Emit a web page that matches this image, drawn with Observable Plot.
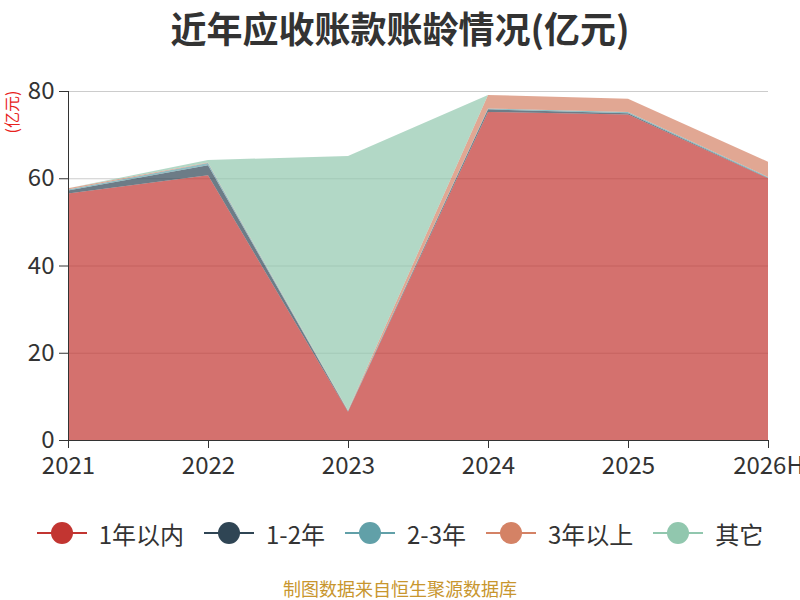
<!DOCTYPE html>
<html>
<head>
<meta charset="utf-8">
<script src="https://cdn.jsdelivr.net/npm/d3@7"></script>
<script src="https://cdn.jsdelivr.net/npm/@observablehq/plot@0.6"></script>
<style>
  html, body { margin: 0; padding: 0; background: #fff; }
  body { width: 800px; height: 600px; position: relative; overflow: hidden;
         font-family: "Noto Sans CJK SC", "Noto Sans", sans-serif; }
  #title { height: 60px; line-height: 54px; text-align: center; font-size: 36px; font-weight: bold; color: #333; }
  #unit { position: absolute; left: -10px; top: 100px; transform: rotate(-90deg); color: #e8231d; font-size: 16px; }
  #legend { position: absolute; top: 517px; left: 0; width: 800px; height: 32px; display: flex; justify-content: center; align-items: center; }
  .item { display: flex; align-items: center; margin: 0 10px; font-size: 24px; color: #333; }
  .item svg { margin-right: 12px; }
  #caption { position: absolute; top: 575px; width: 800px; text-align: center; font-size: 18px; color: #c8962e; }
</style>
</head>
<body>
<div id="title">近年应收账款账龄情况(亿元)</div>
<div id="chart"></div>
<div id="unit">(亿元)</div>
<div id="legend"></div>
<div id="caption">制图数据来自恒生聚源数据库</div>
<script>
const years = ["2021", "2022", "2023", "2024", "2025", "2026H"];
const seriesNames = ["1年以内", "1-2年", "2-3年", "3年以上", "其它"];
const colors = ["#c23531", "#2f4554", "#61a0a8", "#d48265", "#91c7ae"];
const within1 = [56.5, 60.7, 6.5, 75.2, 74.6, 60.0];
const y1to2 = [0.7, 2.3, 0.1, 0.6, 0.3, 0.1];
const y2to3 = [0.2, 0.5, 0.1, 0.2, 0.3, 0.2];
const over3 = [0.3, 0.1, 0.1, 3.1, 3.0, 3.5];
const others = [0, 0.6, 58.3, 0, 0, 0];
const yTicks = [0, 20, 40, 60, 80];

const seriesValues = [within1, y1to2, y2to3, over3, others];
const data = [];
seriesNames.forEach((s, i) => years.forEach((yr, j) => data.push({year: yr, series: s, value: seriesValues[i][j]})));

const chart = Plot.plot({
  width: 800,
  height: 420,
  marginTop: 31,
  marginBottom: 40,
  marginLeft: 68,
  marginRight: 32,
  style: {fontSize: "24px", fontFamily: "'Noto Sans CJK SC', sans-serif", color: "#333", background: "#fff"},
  x: {type: "point", domain: years, padding: 0, label: null},
  y: {domain: [0, 80], label: null},
  color: {domain: seriesNames, range: colors},
  marks: [
    Plot.ruleY(yTicks.filter(d => d > 0), {stroke: "#ccc", strokeWidth: 1.2}),
    Plot.areaY(data, Plot.stackY({x: "year", y: "value", z: "series", fill: "series", fillOpacity: 0.7, order: null, curve: "linear"})),
    Plot.axisY({ticks: yTicks, tickSize: 9, tickPadding: 5, stroke: "#333", fill: "#333", label: null}),
    Plot.axisX({tickSize: 8, tickPadding: 8, stroke: "#333", fill: "#333", label: null}),
    Plot.frame({anchor: "left", stroke: "#333"}),
    Plot.frame({anchor: "bottom", stroke: "#333"})
  ]
});
document.getElementById("chart").appendChild(chart);

const legend = document.getElementById("legend");
seriesNames.forEach((s, i) => {
  const item = document.createElement("div");
  item.className = "item";
  item.innerHTML = `<svg width="50" height="24"><line x1="0" y1="12" x2="50" y2="12" stroke="${colors[i]}" stroke-width="2"/><circle cx="25" cy="12" r="11" fill="${colors[i]}"/></svg><span>${s}</span>`;
  legend.appendChild(item);
});
</script>
</body>
</html>
